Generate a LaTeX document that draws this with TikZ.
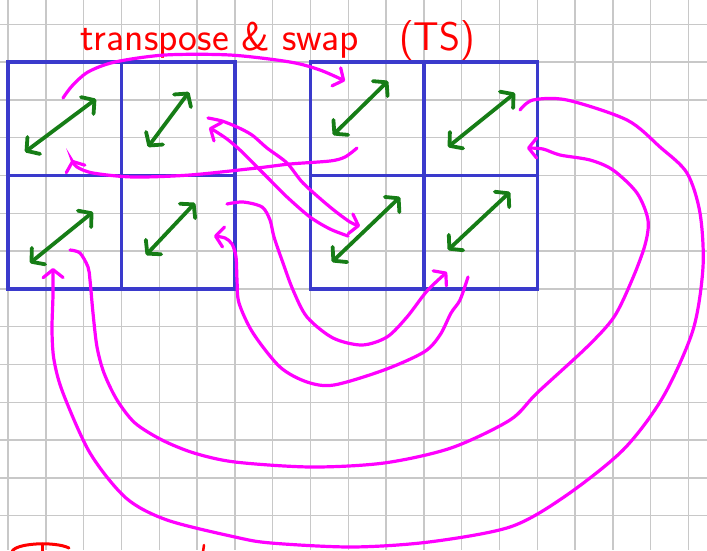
\documentclass[tikz,border=0pt]{standalone}
\usepackage{tikz}
\usetikzlibrary{arrows.meta}
\usepackage{xcolor}
\definecolor{blockblue}{RGB}{58,58,204}
\definecolor{pengreen}{RGB}{22,125,22}
\definecolor{penpink}{RGB}{255,0,255}
\definecolor{penred}{RGB}{255,0,0}
\definecolor{paper}{RGB}{200,200,200}

\begin{document}
\begin{tikzpicture}[x=1pt,y=-1pt]
					\tikzstyle{cell} = [rectangle,draw=blockblue,line width=3.4pt,minimum size=113.4pt,inner sep=0pt]
					\tikzstyle{dbl} = [draw=pengreen,line width=3.8pt,line cap=round,{Straight Barb[round,length=9pt,width=21pt]}-{Straight Barb[round,length=9pt,width=21pt]}]
					\tikzstyle{move} = [draw=penpink,line width=3.2pt,line cap=round,-{Straight Barb[round,length=8pt,width=20pt]}]
					\tikzstyle{hand} = [text=penred,font=\sffamily\fontsize{40}{40}\selectfont,inner sep=0pt]
					\useasboundingbox (0,0) rectangle (707,550);
					\fill[white] (0,0) rectangle (707,550);
					\foreach \i in {0,...,18} \draw[paper,line width=1.4pt] (8+37.8*\i,0) -- (8+37.8*\i,550);
					\foreach \j in {-1,...,12} \draw[paper,line width=1.4pt] (0,62+37.8*\j) -- (707,62+37.8*\j);
					\node[hand,anchor=base west] (title) at (80,50) {transpose \& swap\hspace{28pt} (TS)};
					\node[cell] (l1) at (64.7,118.7) {};
					\node[cell] (l2) at (178.1,118.7) {};
					\node[cell] (l3) at (64.7,232.1) {};
					\node[cell] (l4) at (178.1,232.1) {};
					\node[cell] (r1) at (367.1,118.7) {};
					\node[cell] (r2) at (480.5,118.7) {};
					\node[cell] (r3) at (367.1,232.1) {};
					\node[cell] (r4) at (480.5,232.1) {};
					\draw[dbl] (25,152) -- (96,99);
					\draw[dbl] (148,147) -- (189,92);
					\draw[dbl] (30,263) -- (93,212);
					\draw[dbl] (146,255) -- (195,203);
					\draw[dbl] (333,135) -- (388,81);
					\draw[dbl] (448,147) -- (515,93);
					\draw[dbl] (332,262) -- (400,197);
					\draw[dbl] (448,250) -- (510,192);
					\coordinate (l1s) at (63,98);
					\coordinate (r1e) at (345,81);
					\coordinate (r1s) at (357,148);
					\coordinate (l1e) at (72,160);
					\coordinate (l2s) at (208,118);
					\coordinate (r3e) at (360,226);
					\coordinate (r3s) at (348,236);
					\coordinate (l2e) at (209,128);
					\coordinate (l4s) at (227,204);
					\coordinate (r4e) at (447,272);
					\coordinate (r4s) at (468,277);
					\coordinate (l4e) at (214,236);
					\coordinate (r2s) at (520,110);
					\coordinate (l3e) at (53,268);
					\coordinate (l3s) at (70,250);
					\coordinate (r2e) at (527,148);
					\draw[move] plot[smooth] coordinates {(l1s) (72,86) (88,72) (115,62) (165,55) (230,55) (290,62) (320,70) (r1e)};
					\draw[move] plot[smooth] coordinates {(r1s) (345,157) (330,161) (290,164) (257,168) (190,175) (133,177) (93,173) (77,167) (l1e)};
					\draw[move] plot[smooth] coordinates {(l2s) (222,121) (237,127) (252,135) (267,148) (287,163) (303,183) (330,207) (350,222) (r3e)};
					\draw[move] plot[smooth] coordinates {(r3s) (330,229) (310,217) (287,197) (270,180) (257,167) (240,150) (227,139) (215,131) (l2e)};
					\draw[move] plot[smooth] coordinates {(l4s) (243,202) (262,207) (270,220) (274,237) (283,263) (293,290) (307,317) (333,338) (362,345) (387,337) (407,317) (427,291) (r4e)};
					\draw[move] plot[smooth] coordinates {(r4s) (460,300) (451,313) (440,335) (424,352) (384,370) (334,385) (307,382) (280,367) (253,333) (239,303) (237,280) (236,257) (232,244) (225,238) (l4e)};
					\draw[move] plot[smooth] coordinates {(r2s) (533,100) (567,100) (627,120) (660,147) (687,173) (700,213) (703,267) (693,330) (663,397) (623,450) (564,497) (510,527) (429,542) (352,547) (271,543) (235,537) (167,520) (126,498) (90,453) (63,393) (54,360) (52,330) (53,295) (l3e)};
					\draw[move] plot[smooth] coordinates {(l3s) (80,253) (88,267) (90,280) (93,313) (97,347) (104,373) (117,400) (135,423) (162,440) (194,453) (235,462) (311,467) (384,463) (451,448) (510,420) (537,393) (587,347) (614,317) (632,280) (645,245) (648,220) (637,193) (613,170) (590,160) (560,155) (543,149) (r2e)};
					\draw[penred,line width=3pt,line cap=round] (12,552) .. controls (14,543) and (55,541) .. (69,548);
					\draw[penred,line width=3pt,line cap=round] (42,544) -- (42,552);
					\draw[penred,line width=2.5pt,line cap=round] (204,545) -- (203,552);
					\end{tikzpicture}
\end{document}
